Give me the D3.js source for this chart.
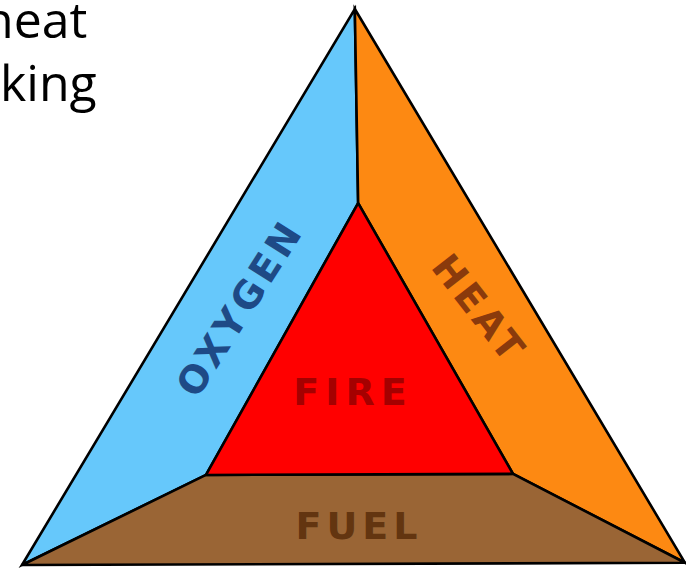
<!DOCTYPE html>
<html><head><meta charset="utf-8">
<script src="https://cdn.jsdelivr.net/npm/d3@7"></script>
<style>html,body{margin:0;padding:0;background:#fff;overflow:hidden}</style>
</head><body>
<svg id="c" width="686" height="570"></svg>
<script>
const captionLines = ["heat", "king"];
const sideLabels = ["OXYGEN", "HEAT", "FUEL"];
const centerLabel = "FIRE";
const regionNames = ["oxygen", "heat", "fuel", "fire"];

const svg = d3.select("#c");
const x = d3.scaleLinear().domain([0, 1]).range([22, 685]);
const y = d3.scaleLinear().domain([0, 1]).range([565, 9]);

// normalized geometry
const outer = {apex: [0.502, 1], bl: [0, 0], br: [1, 0.004]};
const inner = {top: [0.507, 0.651], bl: [0.2775, 0.162], br: [0.7405, 0.164]};
const P = p => [x(p[0]), y(p[1])];

const polys = {
  oxygen: [outer.apex, inner.top, inner.bl, outer.bl],
  heat: [outer.apex, outer.br, inner.br, inner.top],
  fuel: [outer.bl, inner.bl, inner.br, outer.br],
  fire: [inner.top, inner.bl, inner.br]
};
const fills = {oxygen: "#66c8fb", heat: "#fd8912", fuel: "#9a6535", fire: "#ff0000"};

svg.selectAll("polygon.r").data(regionNames).join("polygon")
  .attr("class", "r")
  .attr("points", d => polys[d].map(P).map(p => p.join(",")).join(" "))
  .attr("fill", d => fills[d])
  .attr("stroke", "#000").attr("stroke-width", 2.6).attr("stroke-linejoin", "miter");

// caption text top-left (partly cut off at the left edge, as in the source)
svg.selectAll("text.cap").data(captionLines).join("text")
  .attr("class", "cap")
  .attr("x", (d, i) => i === 0 ? -17 : 0)
  .attr("y", (d, i) => 38 + i * 63)
  .attr("font-family", "'Open Sans', sans-serif")
  .attr("font-size", 50)
  .attr("fill", "#000")
  .text(d => d);

const labelFont = "'DejaVu Sans', sans-serif";
const labelSpecs = [
  {t: sideLabels[0], cx: 240, cy: 308, rot: -57.5, col: "#1e4a86", size: 38, ls: 4},
  {t: sideLabels[1], cx: 479, cy: 309, rot: 52, col: "#8a3a0c", size: 38, ls: 4},
  {t: sideLabels[2], cx: 359, cy: 526, rot: 0, col: "#633510", size: 38, ls: 5},
  {t: centerLabel, cx: 353, cy: 392, rot: 0, col: "#a50000", size: 38, ls: 6}
];
svg.selectAll("text.lab").data(labelSpecs).join("text")
  .attr("class", "lab")
  .attr("transform", d => `translate(${d.cx},${d.cy}) rotate(${d.rot})`)
  .attr("text-anchor", "middle")
  .attr("dominant-baseline", "central")
  .attr("font-family", labelFont)
  .attr("font-weight", "bold")
  .attr("font-size", d => d.size)
  .attr("letter-spacing", d => d.ls)
  .attr("fill", d => d.col)
  .text(d => d.t);
</script>
</body></html>
